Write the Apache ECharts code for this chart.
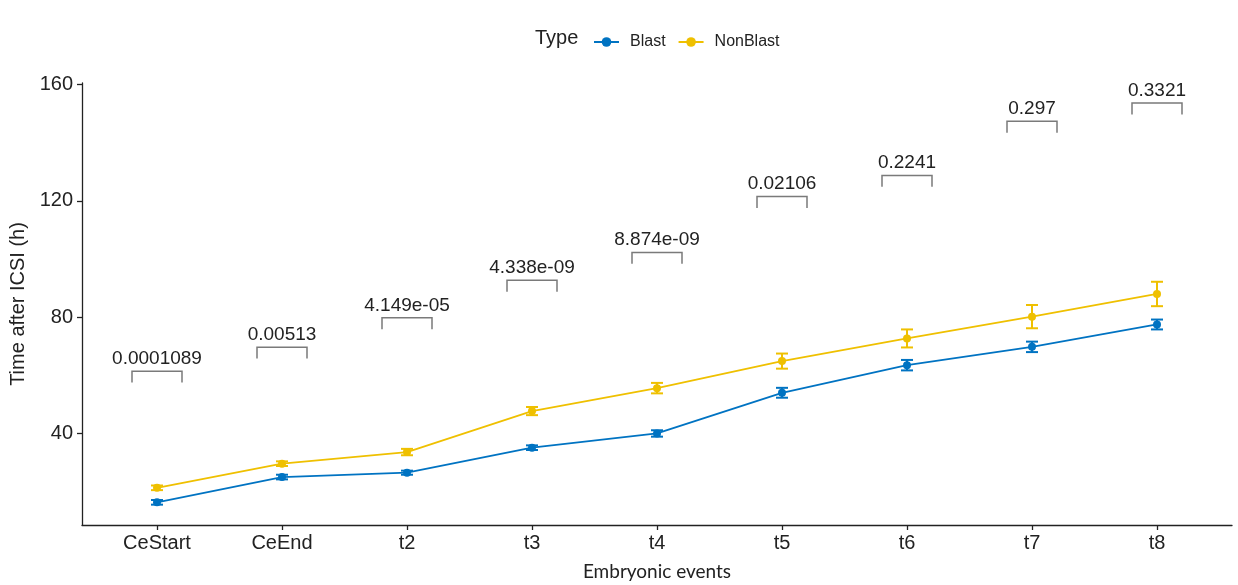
<!DOCTYPE html>
<html>
<head>
<meta charset="utf-8">
<script src="https://cdn.jsdelivr.net/npm/echarts/dist/echarts.min.js"></script>
<style>
  html, body { margin: 0; padding: 0; background: #fff; }
  #chart { width: 1238px; height: 585px; }
</style>
</head>
<body>
<div id="chart"></div>
<script>
const categories = ['CeStart', 'CeEnd', 't2', 't3', 't4', 't5', 't6', 't7', 't8'];
const blastMean = [16.3, 25.0, 26.5, 35.1, 40.0, 54.0, 63.5, 69.8, 77.5];
const blastErr = [0.8, 0.8, 0.7, 0.8, 1.1, 1.7, 1.8, 1.8, 1.7];
const nonBlastMean = [21.3, 29.6, 33.6, 47.7, 55.6, 64.9, 72.7, 80.2, 88.0];
const nonBlastErr = [0.8, 0.8, 1.1, 1.4, 1.8, 2.6, 3.1, 4.0, 4.2];
const pLabels = ['0.0001089', '0.00513', '4.149e-05', '4.338e-09', '8.874e-09', '0.02106', '0.2241', '0.297', '0.3321'];
const bracketY = [61.4, 69.7, 79.8, 92.7, 102.3, 121.5, 128.8, 147.4, 153.7];
const yTicks = [40, 80, 120, 160];
const seriesNames = ['Blast', 'NonBlast'];

const BLUE = '#0073C2';
const YELLOW = '#EFC000';
const FONT = 'Liberation Sans';
const xIdx = categories.map((c, i) => i);

function errRenderer(color) {
  return function (params, api) {
    const x = api.value(0), lo = api.value(1), hi = api.value(2);
    const p1 = api.coord([x, lo]);
    const p2 = api.coord([x, hi]);
    const w = 6;
    const style = { stroke: color, lineWidth: 2, fill: null };
    return {
      type: 'group',
      children: [
        { type: 'line', shape: { x1: p1[0], y1: p1[1], x2: p2[0], y2: p2[1] }, style: style },
        { type: 'line', shape: { x1: p1[0] - w, y1: p1[1], x2: p1[0] + w, y2: p1[1] }, style: style },
        { type: 'line', shape: { x1: p2[0] - w, y1: p2[1], x2: p2[0] + w, y2: p2[1] }, style: style }
      ]
    };
  };
}

function bracketRender(params, api) {
  const x = api.value(0), y = api.value(1);
  const l = api.coord([x - 0.2, y]);
  const r = api.coord([x + 0.2, y]);
  const tip = api.coord([x, y - 3.9]);
  return {
    type: 'group',
    children: [
      {
        type: 'polyline',
        shape: { points: [[l[0], tip[1]], [l[0], l[1]], [r[0], r[1]], [r[0], tip[1]]] },
        style: { stroke: '#7a7a7a', lineWidth: 1.5, fill: null }
      },
      {
        type: 'text',
        x: (l[0] + r[0]) / 2,
        y: l[1] - 3,
        style: {
          text: pLabels[params.dataIndex],
          fill: '#222',
          fontSize: 19,
          fontFamily: FONT,
          align: 'center',
          verticalAlign: 'bottom'
        }
      }
    ]
  };
}

const chart = echarts.init(document.getElementById('chart'), null, { renderer: 'canvas' });
chart.setOption({
  animation: false,
  backgroundColor: '#fff',
  textStyle: { fontFamily: FONT },
  grid: { left: 82, right: 6, top: 83, bottom: 60, outerBoundsMode: 'none', containLabel: false },
  graphic: [{
    type: 'text', left: 535, top: 28,
    style: { text: 'Type', fontSize: 20, fontFamily: FONT, fill: '#222' }
  }],
  legend: {
    data: seriesNames,
    left: 588, top: 29,
    itemWidth: 25, itemHeight: 12, itemGap: 12,
    textStyle: { fontSize: 16, fontFamily: FONT, color: '#222', padding: [0, 0, 0, 6] }
  },
  xAxis: {
    type: 'value', min: -0.6, max: 8.6,
    axisLine: { onZero: false, lineStyle: { color: '#222', width: 1.3 } },
    axisTick: { customValues: xIdx, length: 5, lineStyle: { color: '#222', width: 1.3 } },
    axisLabel: {
      customValues: xIdx,
      formatter: v => categories[Math.round(v)],
      fontSize: 20, fontFamily: FONT, color: '#222', margin: 8
    },
    splitLine: { show: false },
    name: 'Embryonic events', nameLocation: 'middle', nameGap: 37,
    nameTextStyle: { fontSize: 19, fontFamily: 'Lato', color: '#222' }
  },
  yAxis: {
    type: 'value', min: 8.5, max: 160.6,
    axisLine: { show: true, onZero: false, lineStyle: { color: '#222', width: 1.3 } },
    axisTick: { show: true, customValues: yTicks, length: 5, lineStyle: { color: '#222', width: 1.3 } },
    axisLabel: { customValues: yTicks, fontSize: 20, fontFamily: FONT, color: '#222', margin: 9 },
    splitLine: { show: false },
    name: 'Time after ICSI (h)', nameLocation: 'middle', nameGap: 46,
    nameTextStyle: { fontSize: 20, fontFamily: FONT, color: '#222' }
  },
  series: [
    {
      name: 'BlastErr', type: 'custom', renderItem: errRenderer(BLUE), z: 2,
      data: blastMean.map((m, i) => [i, m - blastErr[i], m + blastErr[i]])
    },
    {
      name: 'NonBlastErr', type: 'custom', renderItem: errRenderer(YELLOW), z: 2,
      data: nonBlastMean.map((m, i) => [i, m - nonBlastErr[i], m + nonBlastErr[i]])
    },
    {
      name: 'Blast', type: 'line', z: 3,
      data: blastMean.map((m, i) => [i, m]),
      color: BLUE, symbol: 'circle', symbolSize: 8,
      lineStyle: { width: 1.8, color: BLUE }, itemStyle: { color: BLUE }
    },
    {
      name: 'NonBlast', type: 'line', z: 3,
      data: nonBlastMean.map((m, i) => [i, m]),
      color: YELLOW, symbol: 'circle', symbolSize: 8,
      lineStyle: { width: 1.8, color: YELLOW }, itemStyle: { color: YELLOW }
    },
    {
      name: 'Brackets', type: 'custom', renderItem: bracketRender, z: 4,
      data: bracketY.map((y, i) => [i, y])
    }
  ]
});
</script>
</body>
</html>
